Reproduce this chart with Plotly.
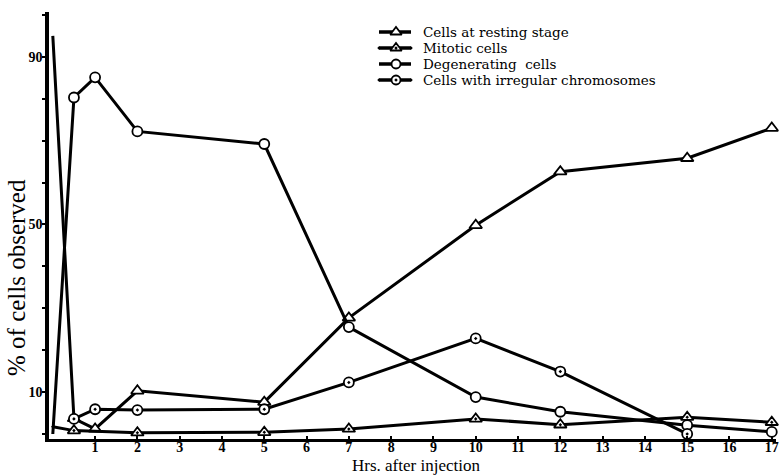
import plotly.graph_objects as go

# ---- data ----
hours_resting = [0, 0.5, 1, 2, 5, 7, 10, 12, 15, 17]
resting = [95, 3.7, 1.2, 10.3, 7.6, 27.7, 49.8, 62.6, 65.8, 73.0]

hours_mitotic = [0, 0.5, 2, 5, 7, 10, 12, 15, 17]
mitotic = [1.7, 0.8, 0.3, 0.4, 1.2, 3.6, 2.2, 4.0, 2.8]

hours_degen = [0, 0.5, 1, 2, 5, 7, 10, 12, 15, 17]
degenerating = [0, 80.3, 85.1, 72.2, 69.2, 25.5, 8.8, 5.3, 2.1, 0.5]

hours_irreg = [0.5, 1, 2, 5, 7, 10, 12, 15]
irregular = [3.6, 5.9, 5.7, 5.9, 12.3, 22.8, 14.9, 0.0]

x_ticks = list(range(1, 18))
y_ticks = [10, 50, 90]

series_names = ["Cells at resting stage", "Mitotic cells",
                "Degenerating  cells", "Cells with irregular chromosomes"]
x_title = "Hrs. after injection"
y_title = "% of cells observed"

# ---- styling ----
SERIF = "Liberation Serif"
BLACK = "black"
W, H = 780, 475
ML, MR, MT, MB = 49, 4, 12, 36
PW, PH = W - ML - MR, H - MT - MB

styles = [
    dict(symbol="triangle-up", size=11),
    dict(symbol="triangle-up-dot", size=11),
    dict(symbol="circle", size=10),
    dict(symbol="circle-dot", size=10),
]

fig = go.Figure()
data = [(hours_resting, resting), (hours_mitotic, mitotic),
        (hours_degen, degenerating), (hours_irreg, irregular)]
for (xs, ys), st, name in zip(data, styles, series_names):
    # the point on the vertical axis carries no visible marker in the original
    sizes = [0 if h == 0 else st["size"] for h in xs]
    fig.add_trace(go.Scatter(
        x=xs, y=ys, mode="lines+markers", name=name, showlegend=False,
        line=dict(color=BLACK, width=3),
        marker=dict(symbol=st["symbol"], size=sizes, color="rgb(255,255,255)",
                    opacity=1, line=dict(color=BLACK, width=1.8)),
        cliponaxis=False,
    ))

# ---- hand-built legend on an overlay axis in plot-fraction units ----
def fx(px):
    return (px - ML) / PW

def fy(py):
    return (H - MB - py) / PH

legend_rows_px = [32, 48, 64, 80]
key_x0, key_x1, key_xm, text_x = 379, 411, 396, 421
for st, name, ry in zip(styles, series_names, legend_rows_px):
    fig.add_trace(go.Scatter(
        x=[fx(key_x0), fx(key_xm), fx(key_x1)], y=[fy(ry)] * 3,
        xaxis="x2", yaxis="y2", mode="lines+markers", showlegend=False,
        hoverinfo="skip",
        line=dict(color=BLACK, width=3.5),
        marker=dict(symbol=st["symbol"], size=[0, st["size"] - 1, 0],
                    color="rgb(255,255,255)", opacity=1,
                    line=dict(color=BLACK, width=1.8)),
    ))
    fig.add_annotation(x=fx(text_x), y=fy(ry), xref="paper", yref="paper",
                       text=name.replace("  ", "&nbsp; "), showarrow=False,
                       xanchor="left", yanchor="middle",
                       font=dict(family="DejaVu Serif", size=13.5, color=BLACK))

# axis titles
fig.add_annotation(x=fx(416), y=fy(465), xref="paper", yref="paper",
                   text=x_title, showarrow=False, xanchor="center", yanchor="middle",
                   font=dict(family=SERIF, size=17, color=BLACK))
fig.add_annotation(x=fx(16), y=fy(278), xref="paper", yref="paper",
                   text=y_title, showarrow=False, textangle=-90,
                   xanchor="center", yanchor="middle",
                   font=dict(family=SERIF, size=25, color=BLACK))

fig.update_layout(
    width=W, height=H,
    margin=dict(l=ML, r=MR, t=MT, b=MB, autoexpand=False),
    paper_bgcolor="white", plot_bgcolor="white",
    showlegend=False,
    xaxis=dict(range=[-0.09, 17.1], tickvals=x_ticks,
               ticktext=[str(v) for v in x_ticks], automargin=False,
               showline=True, linewidth=3, linecolor=BLACK,
               ticks="inside", ticklen=3, tickwidth=2, tickcolor=BLACK,
               ticklabelstandoff=-7,
               showgrid=False, zeroline=False,
               tickfont=dict(family=SERIF, size=14, color=BLACK, weight="bold")),
    yaxis=dict(range=[-1.2, 100.7], tickvals=y_ticks,
               ticktext=[str(v) for v in y_ticks], automargin=False,
               showline=True, linewidth=3.5, linecolor=BLACK,
               ticks="outside", ticklen=3, tickwidth=2, tickcolor=BLACK,
               ticklabelstandoff=-3,
               minor=dict(dtick=10, tick0=0, ticks="outside", ticklen=3,
                          tickwidth=2, tickcolor=BLACK, showgrid=False),
               showgrid=False, zeroline=False,
               tickfont=dict(family=SERIF, size=14, color=BLACK, weight="bold")),
    xaxis2=dict(overlaying="x", range=[0, 1], visible=False, fixedrange=True),
    yaxis2=dict(overlaying="y", range=[0, 1], visible=False, fixedrange=True),
)

# remove the page's default body margin so the 780x475 figure fills the window
fig.write_html("out.html", config={"displayModeBar": False},
               post_script="document.body.style.margin='0';"
                           "document.body.style.overflow='hidden';")
